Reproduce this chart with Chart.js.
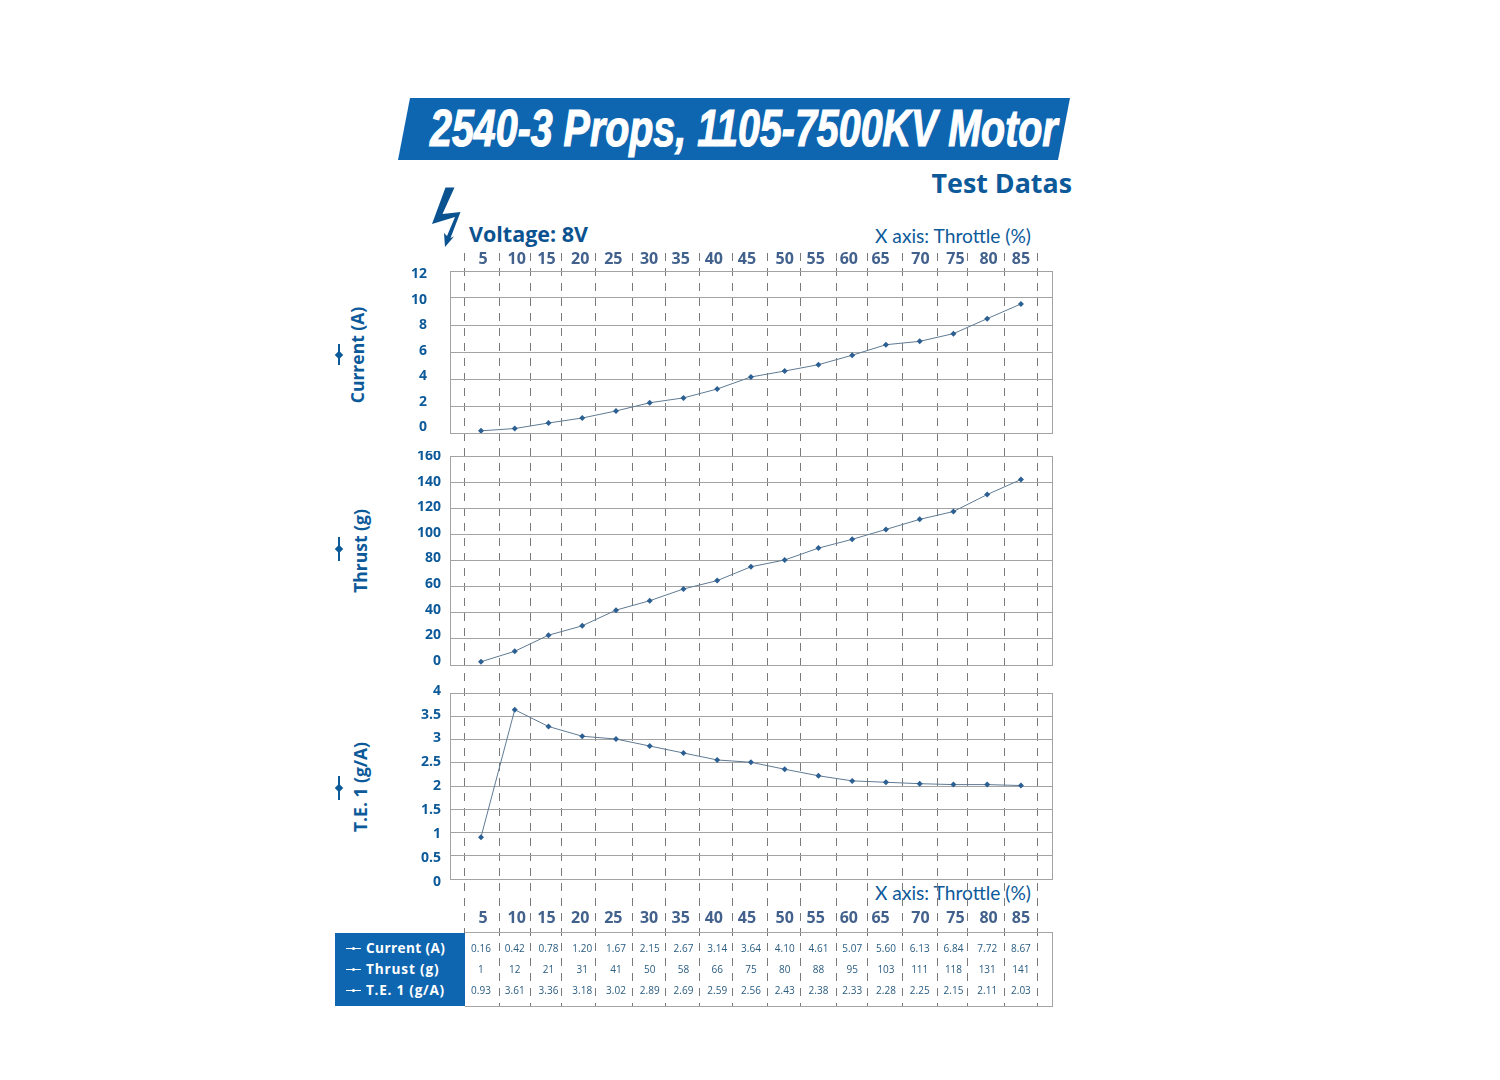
<!DOCTYPE html>
<html>
<head>
<meta charset="utf-8">
<script src="https://cdn.jsdelivr.net/npm/chart.js@4"></script>
<style>
  html, body { margin: 0; background: #fff; }
  #page { position: relative; width: 1500px; height: 1080px; overflow: hidden; font-family: "Open Sans", sans-serif; color: #0d5a9a; }
  #page > * { position: absolute; }
  canvas { position: absolute; }
  #banner { left: 398px; top: 98px; width: 672px; height: 62px; background: #0f66b0; clip-path: polygon(12px 0, 672px 0, 660px 62px, 0 62px); }
  #title { left: 430px; top: 98px; font: italic bold 52px "Liberation Sans", sans-serif; color: #fff; -webkit-text-stroke: 1.2px #fff; white-space: nowrap; transform-origin: left center; }
  #sub { right: 428px; top: 164px; font-size: 26.8px; font-weight: 700; color: #0d5a9a; white-space: nowrap; }
  #volt { left: 469px; top: 219px; font-size: 21.5px; font-weight: 700; color: #0b5290; white-space: nowrap; }
  .xt { left: 875px; white-space: nowrap; font-family: Lato, sans-serif; color: #0d5a9a; font-size: 19.2px; }
  .rot { transform: translate(-50%, -50%) rotate(-90deg); font-size: 17.5px; font-weight: 700; white-space: nowrap; color: #0d5a9a; }
  .mark { width: 2px; background: #0d5a9a; }
  .mark::after { content: ""; position: absolute; left: -2px; top: 50%; margin-top: -3px; width: 6px; height: 6px; background: #0d5a9a; transform: rotate(45deg); }
  #frame { left: 465px; top: 932px; width: 587px; height: 73px; border: 1px solid #a5a5a5; border-left: 0; }
  #legendBox { left: 335px; top: 933px; width: 130px; height: 73px; background: #0f66b0; }
  .rowName { left: 366px; color: #fff; font-size: 13.6px; font-weight: 700; letter-spacing: 0.4px; white-space: nowrap; transform: translateY(-50%); margin-top: -1px; }
  .rowMark { left: 346px; width: 15px; height: 1px; background: #fff; }
  .rowMark::after { content: ""; position: absolute; left: 6px; top: -1px; width: 3px; height: 3px; background: #fff; border-radius: 50%; }
  .cell { font-size: 10px; color: #2a5c80; transform: translate(-50%, -50%); white-space: nowrap; }
</style>
</head>
<body>
<div id="page">
  <div id="banner"></div>
  <div id="title">2540-3 Props, 1105-7500KV Motor</div>
  <div id="sub">Test Datas</div>
  <svg style="left:425px;top:180px" width="45" height="75" viewBox="425 180 45 75"><path fill="#0b5290" d="M445.5 187.5 L454.5 187.5 L442.5 214 L460.5 212 L450.5 238 L454 236.5 L445 247 L444 233 L447 236 L455 217 L432 224 Z"/></svg>
  <div id="volt">Voltage: 8V</div>
  <div class="xt" style="top:224px">X axis: Throttle (%)</div>
  <div class="xt" style="top:881px">X axis: Throttle (%)</div>

  <canvas id="dashes" width="660" height="753" style="left:400px;top:253px"></canvas>
  <canvas id="currentChart" width="660" height="198" style="left:400px;top:245px"></canvas>
  <canvas id="thrustChart" width="660" height="218" style="left:400px;top:451px"></canvas>
  <canvas id="teChart" width="660" height="250" style="left:400px;top:683px"></canvas>

  <div class="rot" style="left:357px;top:355px">Current (A)</div>
  <div class="rot" style="left:360px;top:551px">Thrust (g)</div>
  <div class="rot" style="left:360px;top:787px">T.E. 1 (g/A)</div>
  <div class="mark" style="left:338px;top:344px;height:21px"></div>
  <div class="mark" style="left:338px;top:537px;height:24px"></div>
  <div class="mark" style="left:338px;top:776px;height:24px"></div>

  <div id="frame"></div>
  <div id="legendBox"></div>
</div>
<script>
// DATA
const throttle = [5, 10, 15, 20, 25, 30, 35, 40, 45, 50, 55, 60, 65, 70, 75, 80, 85];

// plotted values
const currentPlot = [0.16, 0.33, 0.74, 1.11, 1.63, 2.24, 2.6, 3.26, 4.15, 4.59, 5.06, 5.76, 6.54, 6.79, 7.36, 8.47, 9.56];
const thrustPlot = [2.5, 10.5, 22.8, 30, 42, 49.2, 58.2, 64.6, 75.2, 80.4, 89.5, 96.2, 103.8, 111.5, 117.5, 130.5, 142];
const tePlot = [0.9, 3.64, 3.28, 3.07, 3.01, 2.86, 2.71, 2.56, 2.51, 2.36, 2.22, 2.11, 2.08, 2.05, 2.03, 2.03, 2.01];

// table rows, as printed
const rowNames = ['Current (A)', 'Thrust (g)', 'T.E. 1 (g/A)'];
const currentRow = ['0.16', '0.42', '0.78', '1.20', '1.67', '2.15', '2.67', '3.14', '3.64', '4.10', '4.61', '5.07', '5.60', '6.13', '6.84', '7.72', '8.67'];
const thrustRow = ['1', '12', '21', '31', '41', '50', '58', '66', '75', '80', '88', '95', '103', '111', '118', '131', '141'];
const teRow = ['0.93', '3.61', '3.36', '3.18', '3.02', '2.89', '2.69', '2.59', '2.56', '2.43', '2.38', '2.33', '2.28', '2.25', '2.15', '2.11', '2.03'];

// where the printed throttle labels and dashed dividers sit, in throttle units
const labelAt = [5.3, 10.3, 14.7, 19.7, 24.6, 29.9, 34.6, 39.5, 44.4, 50, 54.6, 59.5, 64.2, 70.1, 75.3, 80.2, 85];
const dividerAt = [2.5, 7.7, 12.4, 17, 21.9, 27.4, 32.4, 37.4, 42.3, 47.4, 52.3, 57.6, 62.3, 67.4, 72.6, 77.1, 82.5, 87.4];

const currentTicks = [0, 2, 4, 6, 8, 10, 12];
const thrustTicks = [0, 20, 40, 60, 80, 100, 120, 140, 160];
const teTicks = [0, 0.5, 1, 1.5, 2, 2.5, 3, 3.5, 4];

const X_MIN = 0.41, X_MAX = 89.6;
const GRID = '#a3a3a3';

Chart.defaults.animation = false;
Chart.defaults.responsive = false;
Chart.defaults.font.family = '"Open Sans", sans-serif';

// thin grey box round the plot area
const frame = {
  id: 'frame',
  afterDatasetsDraw(chart) {
    const a = chart.chartArea, ctx = chart.ctx;
    ctx.save();
    ctx.strokeStyle = GRID;
    ctx.lineWidth = 1;
    ctx.strokeRect(a.left + 0.5, a.top + 0.5, a.width, a.height);
    ctx.restore();
  }
};

// tick labels must not push the plot area in, its size is fixed from the canvas
function noPadding(s) {
  s.paddingTop = s.paddingBottom = s.paddingLeft = s.paddingRight = 0;
}

function xAxisLabels(position, pad, height) {
  return {
    type: 'linear', position, min: X_MIN, max: X_MAX,
    grid: { display: false, drawTicks: false }, border: { display: false },
    afterBuildTicks: s => { s.ticks = labelAt.map(v => ({ value: v })); },
    afterFit: s => { s.height = height; noPadding(s); },
    ticks: {
      autoSkip: false, maxRotation: 0, padding: pad, color: '#42618c',
      font: { size: 16, weight: 'bold' },
      callback: (v, i) => throttle[i]
    }
  };
}

function panel(id, values, opts) {
  const xAxis = opts.xAxis || { type: 'linear', display: false, min: X_MIN, max: X_MAX };
  return new Chart(document.getElementById(id), {
    type: 'line',
    data: {
      labels: throttle,
      datasets: [{
        data: throttle.map((t, i) => ({ x: t, y: values[i] })),
        borderColor: '#5f7a93', borderWidth: 1, tension: 0,
        pointStyle: 'rectRot', pointRadius: 3,
        pointBackgroundColor: '#2c5f92', pointBorderColor: '#2c5f92', pointBorderWidth: 0
      }]
    },
    options: {
      layout: { padding: opts.padding },
      plugins: { legend: { display: false }, tooltip: { enabled: false } },
      scales: {
        x: xAxis,
        y: {
          min: opts.min, max: opts.max,
          grid: { color: GRID, drawTicks: false }, border: { display: false },
          ticks: { display: false, stepSize: opts.step },
          afterFit: s => { s.width = 0; noPadding(s); }
        },
        // the printed numbers do not quite line up with the grid, so they get their own axis
        labels: {
          position: 'left', min: opts.labelMin, max: opts.labelMax,
          grid: { display: false, drawTicks: false }, border: { display: false },
          afterBuildTicks: s => { s.ticks = opts.ticks.map(v => ({ value: v })); },
          afterFit: s => { s.width = 50; noPadding(s); },
          ticks: {
            autoSkip: false, padding: opts.labelPad, color: '#0d5a9a',
            font: { size: 14, weight: 'bold' },
            callback: v => String(v)
          }
        }
      }
    },
    plugins: [frame]
  });
}

panel('currentChart', currentPlot, {
  min: 0, max: 12, step: 2, ticks: currentTicks, labelMin: -0.47, labelMax: 12.24, labelPad: 23,
  padding: { right: 8, bottom: 10 },
  xAxis: xAxisLabels('top', 2, 26)
});
panel('thrustChart', thrustPlot, {
  min: 0, max: 160, step: 20, ticks: thrustTicks, labelMin: -3.1, labelMax: 160, labelPad: 9,
  padding: { top: 5, right: 8, bottom: 4 }
});
panel('teChart', tePlot, {
  min: 0, max: 4, step: 0.5, ticks: teTicks, labelMin: 0.06, labelMax: 3.95, labelPad: 9,
  padding: { top: 10, right: 8 },
  xAxis: xAxisLabels('bottom', 30, 54)
});

// DASHED DIVIDERS, run through all the panels and the table
const dashes = new Chart(document.getElementById('dashes'), {
  type: 'scatter',
  data: { datasets: [{ data: [] }] },
  options: {
    layout: { padding: { left: 50, right: 8 } },
    plugins: { legend: { display: false }, tooltip: { enabled: false } },
    scales: {
      x: {
        type: 'linear', min: X_MIN, max: X_MAX,
        grid: { color: '#7a7a7a', drawTicks: false },
        border: { display: false, dash: [8, 7] },
        ticks: { display: false },
        afterBuildTicks: s => { s.ticks = dividerAt.map(v => ({ value: v })); },
        afterFit: s => { s.height = 0; }
      },
      y: { display: false, min: 0, max: 1 }
    }
  }
});

// TABLE, columns follow the same throttle scale
const page = document.getElementById('page');
const rowY = [948, 969, 990];
const rowSpacing = ['0.4px', '0.85px', '0.75px'];
const xScale = dashes.scales.x;
const offset = dashes.canvas.offsetLeft;

[currentRow, thrustRow, teRow].forEach((row, r) => {
  const name = document.createElement('div');
  name.className = 'rowName';
  name.style.top = rowY[r] + 'px';
  name.style.letterSpacing = rowSpacing[r];
  name.textContent = rowNames[r];
  page.appendChild(name);

  const mark = document.createElement('div');
  mark.className = 'rowMark';
  mark.style.top = rowY[r] + 'px';
  page.appendChild(mark);

  row.forEach((txt, i) => {
    const c = document.createElement('div');
    c.className = 'cell';
    c.style.left = (offset + xScale.getPixelForValue(throttle[i])) + 'px';
    c.style.top = rowY[r] + 'px';
    c.textContent = txt;
    page.appendChild(c);
  });
});

// the banner text is a condensed face in the reference, squeeze it to the same width
const title = document.getElementById('title');
title.style.transform = 'scaleX(' + (628 / title.offsetWidth) + ')';
</script>
</body>
</html>
